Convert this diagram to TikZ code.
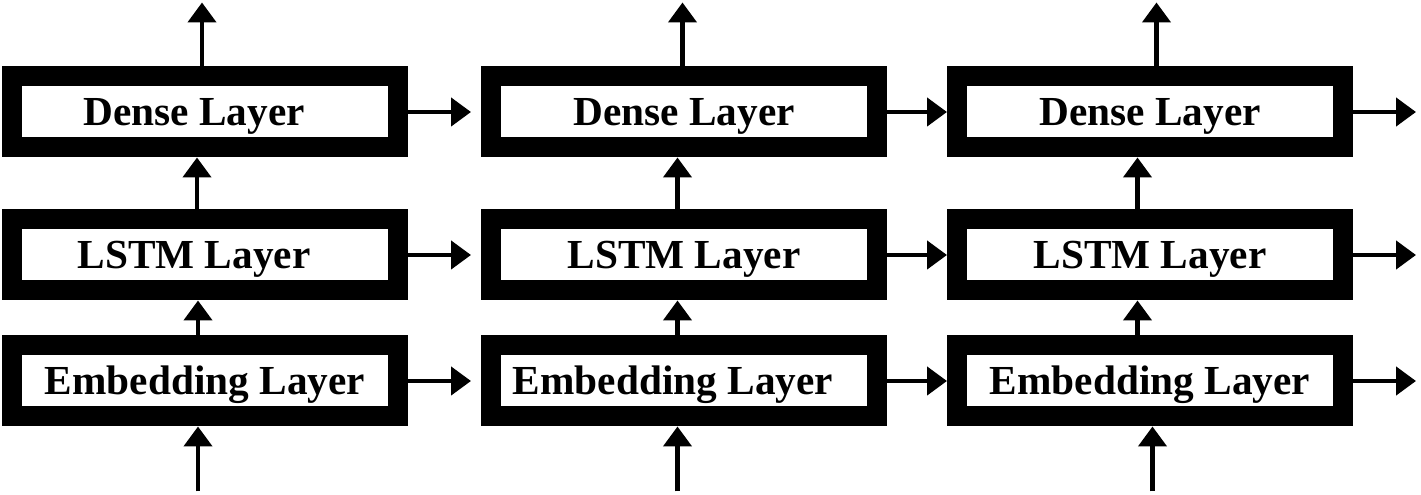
\documentclass[tikz,border=0pt]{standalone}
\usepackage{fontspec}
\setmainfont{Liberation Serif}
\usetikzlibrary{positioning,arrows.meta}
\tikzset{
	layer/.style={draw=black, line width=0.4cm, fill=white,
		minimum width=7.72cm, minimum height=1.42cm, inner sep=0pt,
		text height=15.5pt, text depth=0pt,
		font=\fontsize{23.5}{23.5}\selectfont\bfseries},
	flow/.style={line width=0.09cm,
		-{Triangle[width=0.56cm,length=0.4cm]}},
}
\begin{document}
\begin{tikzpicture}
	\useasboundingbox (0,0) rectangle (28.42,9.90);
	% first column
	\node[layer] (e1) at (4.10,2.28) {Embedding Layer};
	\node[layer, above=0.7cm of e1] (l1) {\hspace*{-0.44cm}LSTM Layer};
	\node[layer, above=1.04cm of l1] (d1) {\hspace*{-0.44cm}Dense Layer};
	% second column
	\node[layer, right=1.46cm of e1] (e2) {\hspace*{-0.44cm}Embedding Layer};
	\node[layer, right=1.46cm of l1] (l2) {LSTM Layer};
	\node[layer, right=1.46cm of d1] (d2) {Dense Layer};
	% third column
	\node[layer, right=1.2cm of e2] (e3) {Embedding Layer};
	\node[layer, right=1.2cm of l2] (l3) {LSTM Layer};
	\node[layer, right=1.2cm of d2] (d3) {Dense Layer};
	
	% inputs and outputs
	\coordinate (in1) at ([xshift=-0.14cm,yshift=-1.3cm]e1.south);
	\coordinate (in2) at ([xshift=-0.13cm,yshift=-1.3cm]e2.south);
	\coordinate (in3) at ([xshift=0.05cm,yshift=-1.3cm]e3.south);
	\coordinate (out1) at ([xshift=-0.06cm,yshift=1.28cm]d1.north);
	\coordinate (out2) at ([xshift=-0.03cm,yshift=1.28cm]d2.north);
	\coordinate (out3) at ([xshift=0.13cm,yshift=1.28cm]d3.north);
	\coordinate (re) at ([xshift=1.26cm]e3.east);
	\coordinate (rl) at ([xshift=1.26cm]l3.east);
	\coordinate (rd) at ([xshift=1.26cm]d3.east);
	
	\draw[flow] (in1) -- ([xshift=-0.14cm]e1.south);
	\draw[flow] (in2) -- ([xshift=-0.13cm]e2.south);
	\draw[flow] (in3) -- ([xshift=0.05cm]e3.south);
	\draw[flow] ([xshift=-0.14cm]e1.north) -- ([xshift=-0.14cm]l1.south);
	\draw[flow] ([xshift=-0.13cm]e2.north) -- ([xshift=-0.13cm]l2.south);
	\draw[flow] ([xshift=-0.25cm]e3.north) -- ([xshift=-0.25cm]l3.south);
	\draw[flow] ([xshift=-0.16cm]l1.north) -- ([xshift=-0.16cm]d1.south);
	\draw[flow] ([xshift=-0.13cm]l2.north) -- ([xshift=-0.13cm]d2.south);
	\draw[flow] ([xshift=-0.25cm]l3.north) -- ([xshift=-0.25cm]d3.south);
	\draw[flow] ([xshift=-0.06cm]d1.north) -- (out1);
	\draw[flow] ([xshift=-0.03cm]d2.north) -- (out2);
	\draw[flow] ([xshift=0.13cm]d3.north) -- (out3);
	
	% time steps
	\draw[flow, shorten >=0.2cm] (e1) -- (e2);
	\draw[flow, shorten >=0.2cm] (l1) -- (l2);
	\draw[flow, shorten >=0.2cm] (d1) -- (d2);
	\draw[flow] (e2) -- (e3);
	\draw[flow] (l2) -- (l3);
	\draw[flow] (d2) -- (d3);
	\draw[flow] (e3) -- (re);
	\draw[flow] (l3) -- (rl);
	\draw[flow] (d3) -- (rd);
\end{tikzpicture}
\end{document}
